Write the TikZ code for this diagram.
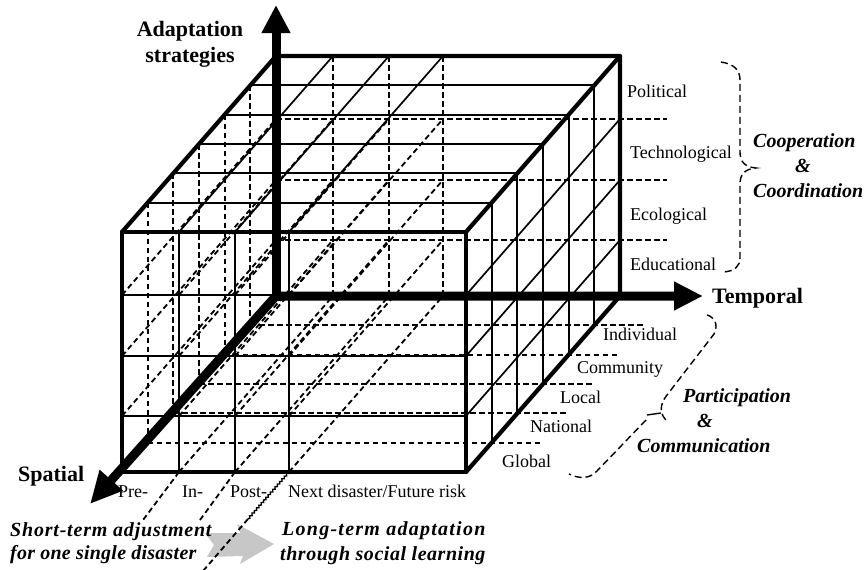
\documentclass[tikz,border=0pt]{standalone}
\usepackage{fontspec}
\setmainfont{Liberation Serif}
\usetikzlibrary{arrows.meta,decorations.pathmorphing}
\begin{document}
\begin{tikzpicture}[x=1pt,y=-1pt,
  thinln/.style={line width=1.7pt},
  dashln/.style={line width=1.8pt, dash pattern=on 5.5pt off 3.5pt},
  edgeln/.style={line width=4.2pt, line cap=round, line join=round},
  axisln/.style={line width=9pt, line join=miter},
  lab/.style={inner sep=0pt, anchor=base west, font=\fontsize{18}{20}\selectfont},
  blab/.style={inner sep=0pt, font=\fontsize{22}{24}\selectfont\bfseries},
  bilab/.style={inner sep=0pt, anchor=base west, font=\fontsize{20}{22}\selectfont\bfseries\itshape},
  bracel/.style={line width=1.4pt, dash pattern=on 7pt off 4pt},
]
\useasboundingbox (0,0) rectangle (868,570);

% ---------- hidden (dashed) lines ----------
% back face
\foreach \x in {179,235,289} \draw[dashln] (\x+154,56) -- (\x+154,296);
\foreach \y in {295,356,416} \draw[dashln] (276,\y-176) -- (667,\y-176);
% left face verticals
\foreach \k in {1,...,5} \draw[dashln] (122+\k*25.6667,232-\k*29.3333) -- (122+\k*25.6667,472-\k*29.3333);
% left face + interior depth lines
\foreach \x in {122,179,235,289} \foreach \y in {295,356,416} \draw[dashln] (\x,\y) -- (\x+154,\y-176);
% bottom face
\foreach \k in {1,...,5} \draw[dashln] (122+\k*25.6667,472-\k*29.3333) -- (515+\k*25.6667,472-\k*29.3333);
\foreach \x in {179,235,289} \draw[dashln] (\x,472) -- (\x+154,296);

% gray arrow
\fill[black!22] (205,533) -- (240,533) -- (237,524) -- (274,544) -- (240,564) -- (243,556) -- (207,557) -- (214,545) -- cycle;

% extensions below the cube
\draw[dashln] (179,472) -- (143,520);
\draw[dashln] (235,472) -- (200,520);
\draw[line width=1.3pt, decorate, decoration={snake, amplitude=0.9pt, segment length=3.5pt}] (289,472) -- (248,519);
\draw[dashln] (248,519) -- (203,571);

% ---------- visible (solid) lines ----------
% top face
\foreach \k in {1,...,5} \draw[thinln] (122+\k*25.6667,232-\k*29.3333) -- (466+\k*25.6667,232-\k*29.3333);
\foreach \x in {179,235,289} \draw[thinln] (\x,232) -- (\x+154,56);
% right face
\foreach \k in {1,...,5} \draw[thinln] (466+\k*25.6667,232-\k*29.3333) -- (466+\k*25.6667,472-\k*29.3333);
\foreach \y in {295,356,416} \draw[thinln] (466,\y) -- (620,\y-176);
% front face
\foreach \x in {179,235,289} \draw[thinln] (\x,232) -- (\x,472);
\foreach \y in {295,356,416} \draw[thinln] (122,\y) -- (466,\y);
% thick edges
\draw[edgeln] (122,232) rectangle (466,472);
\draw[edgeln] (122,232) -- (276,56) -- (620,56) -- (466,232);
\draw[edgeln] (620,56) -- (620,296) -- (466,472);

% ---------- axes ----------
\coordinate (O) at (276,296);
\coordinate (T) at (703,296);
\coordinate (S) at (90,504);
\coordinate (V) at (276,5);
\coordinate (Ob) at (276,300.5);
\draw[axisln, {Triangle[length=32pt,width=29pt]}-{Triangle[length=29pt,width=27pt]}] (S) -- (O) -- (T);
\draw[axisln, -{Triangle[length=28pt,width=27pt]}] (Ob) -- (V);

% ---------- braces ----------
\draw[bracel] (721,62) .. controls (734,64) and (740,70) .. (740,80) -- (740,152)
  .. controls (740,162) and (745,167) .. (756,168)
  .. controls (745,169) and (740,174) .. (740,184) -- (740,258)
  .. controls (740,266) and (735,271) .. (724,272);
\draw[bracel] (707,315) .. controls (714,317) and (719,324) .. (714,334) -- (667,395)
  .. controls (659,405) and (660,414) .. (666,420);
\draw[line width=1.4pt] (647,415) -- (661,413);
\draw[bracel] (646,420) -- (597,471) .. controls (590,479) and (579,479) .. (569,474);

% ---------- labels ----------
\node[blab, anchor=base] (adapt) at (190,36) {Adaptation};
\node[blab, anchor=base] (strat) at (190,62) {strategies};
\node[blab, anchor=base west] (temp) at (712,303) {Temporal};
\node[blab, anchor=base west] (spat) at (18,481) {Spatial};

\node[lab] (pol) at (627,97) {Political};
\node[lab] (tec) at (630,158) {Technological};
\node[lab] (eco) at (630,220) {Ecological};
\node[lab] (edu) at (630,270) {Educational};

\node[lab] (ind) at (603,340) {Individual};
\node[lab] (com) at (577,373) {Community};
\node[lab] (loc) at (560,403) {Local};
\node[lab] (nat) at (530,432) {National};
\node[lab] (glo) at (502,467) {Global};

\node[lab] (pre) at (118,497) {Pre-};
\node[lab] (in) at (182,497) {In-};
\node[lab] (post) at (230,497) {Post-};
\node[lab] (next) at (288,497) {Next disaster/Future risk};

\node[bilab] (coop) at (753,147) {Cooperation};
\node[bilab, anchor=base] (amp1) at (803,172) {\&};
\node[bilab] (coor) at (753,197) {Coordination};

\node[bilab] (part) at (683,402) {Participation};
\node[bilab, anchor=base] (amp2) at (705,427) {\&};
\node[bilab] (comm) at (637,452) {Communication};

\node[bilab] (st1) at (10,536) {\addfontfeatures{LetterSpace=4}Short-term adjustment};
\node[bilab] (st2) at (10,559) {\addfontfeatures{LetterSpace=1.2}for one single disaster};
\node[bilab] (lt1) at (282,535) {\addfontfeatures{LetterSpace=6.3}Long-term adaptation};
\node[bilab] (lt2) at (280,560) {\addfontfeatures{LetterSpace=2.7}through social learning};
\end{tikzpicture}
\end{document}
